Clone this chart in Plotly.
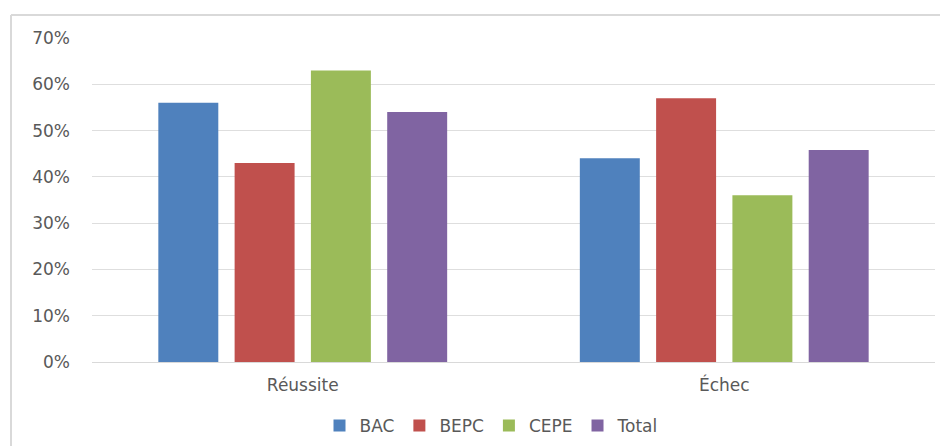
import plotly.graph_objects as go

categories = ["Réussite", "Échec"]
series_names = ["BAC", "BEPC", "CEPE", "Total"]
bac = [0.56, 0.44]
bepc = [0.43, 0.57]
cepe = [0.63, 0.36]
total = [0.54, 0.458]
colors = ["#4F81BD", "#C0504D", "#9BBB59", "#8064A2"]
y_ticks = [0, 0.1, 0.2, 0.3, 0.4, 0.5, 0.6, 0.7]
y_tick_labels = ["0%", "10%", "20%", "30%", "40%", "50%", "60%", "70%"]

fig = go.Figure()
for name, vals, col in zip(series_names, [bac, bepc, cepe, total], colors):
    fig.add_trace(go.Bar(x=categories, y=vals, name=name,
                         marker=dict(color=col, line=dict(width=0))))

# page body has an 8px margin, so figure origin sits at (8, 8) in the window
OFF = 8
W, H = 948, 446
ml, mt = 92 - OFF, 38 - OFF
plot_right = 935 - OFF
plot_bottom = 362 - OFF
mr = W - plot_right
mb = H - plot_bottom
pw, ph = W - ml - mr, H - mt - mb
FONT = "DejaVu Sans"

fig.update_layout(
    width=W, height=H,
    margin=dict(l=ml, r=mr, t=mt, b=mb, autoexpand=False),
    paper_bgcolor="white", plot_bgcolor="white",
    barmode="group", bargap=0.276, bargroupgap=0.214,
    font=dict(family=FONT, color="#595959", size=17),
    xaxis=dict(showgrid=False, showline=True, linecolor="#D9D9D9", linewidth=1,
               ticks="", automargin=False, ticklabelstandoff=8,
               tickfont=dict(family=FONT, size=17, color="#595959")),
    yaxis=dict(range=[0, 0.7], tickvals=y_ticks, ticktext=y_tick_labels,
               showgrid=True, gridcolor="#DEDEDE", gridwidth=1,
               zeroline=False, showline=False, ticks="", ticklabelstandoff=21,
               automargin=False,
               tickfont=dict(family=FONT, size=17, color="#595959")),
    legend=dict(orientation="h", x=0.5 - 22 / pw, xanchor="center",
                y=-((426 - OFF) - plot_bottom) / ph,
                yanchor="middle", font=dict(family=FONT, size=17, color="#595959"),
                itemwidth=30, traceorder="normal"),
    showlegend=True,
)

# chart area border (top and left edges visible)
x_left = ((11 - OFF) - ml) / pw
x_right = (W + 5 - ml) / pw
y_top = (H - (15 - OFF) - mb) / ph
y_bot = (-5 - mb) / ph
fig.add_shape(type="line", xref="paper", yref="paper", x0=x_left, x1=x_right,
              y0=y_top, y1=y_top, line=dict(color="#D9D9D9", width=2))
fig.add_shape(type="line", xref="paper", yref="paper", x0=x_left, x1=x_left,
              y0=y_top, y1=y_bot, line=dict(color="#D9D9D9", width=2))

fig.write_html("out.html")
